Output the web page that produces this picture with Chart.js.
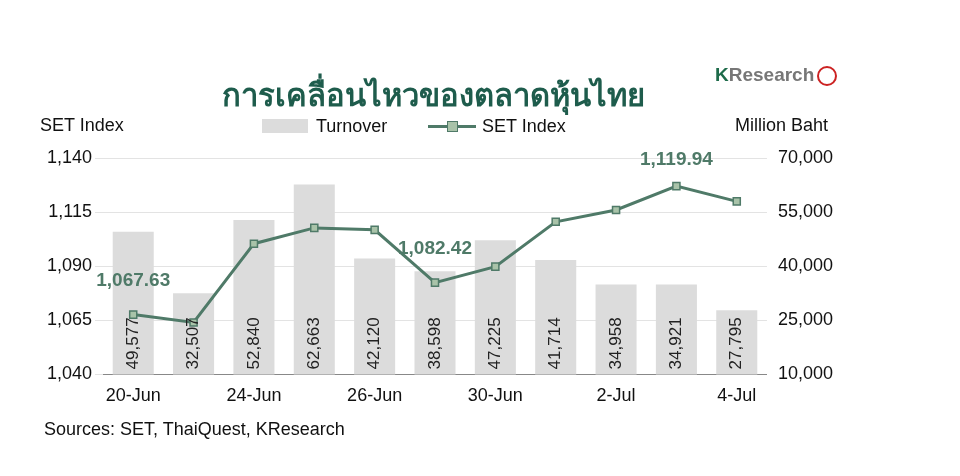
<!DOCTYPE html>
<html>
<head>
<meta charset="utf-8">
<script src="https://cdn.jsdelivr.net/npm/chart.js@4"></script>
<style>
  body { margin: 0; background: #fff; font-family: "Liberation Sans", Arial, sans-serif; }
  #wrap { position: relative; width: 960px; height: 476px; }
  canvas { position: absolute; left: 0; top: 0; }
  .t { position: absolute; color: #111; font-size: 18px; white-space: nowrap; }
</style>
</head>
<body>
<div id="wrap">
  <canvas id="c" width="960" height="476"></canvas>
  <div class="t" style="left:222px;top:70px;font-family:'Noto Sans';font-weight:bold;font-size:31px;color:#1e5c4c;">การเคลื่อนไหวของตลาดหุ้นไทย</div>
  <div class="t" style="left:715px;top:64px;font-weight:bold;font-size:19px;color:#777;"><span style="color:#1e6b4a">K</span>Research<span style="display:inline-block;width:20px;height:20px;border:2px solid #c22;border-radius:50%;vertical-align:middle;margin-left:3px;box-sizing:border-box;"></span></div>
  <div class="t" style="left:40px;top:115px;">SET Index</div>
  <div class="t" style="left:735px;top:115px;">Million Baht</div>
  <div class="t" style="left:262px;top:116px;"><span style="display:inline-block;width:46px;height:14px;background:#dcdcdc;vertical-align:-1px;margin-right:8px;"></span>Turnover</div>
  <div class="t" style="left:428px;top:116px;"><span style="display:inline-block;position:relative;width:48px;height:14px;vertical-align:-1px;margin-right:6px;"><span style="position:absolute;left:0;top:6px;width:48px;height:3px;background:#4f7a68"></span><span style="position:absolute;left:19px;top:2px;width:9px;height:9px;background:#a9c3a9;border:1.5px solid #4f7a68"></span></span>SET Index</div>
  <div class="t" style="left:44px;top:419px;">Sources: SET, ThaiQuest, KResearch</div>
</div>
<script>
const dates = ['20-Jun','21-Jun','24-Jun','25-Jun','26-Jun','27-Jun','30-Jun','1-Jul','2-Jul','3-Jul','4-Jul'];
const turnover = [49577, 32507, 52840, 62663, 42120, 38598, 47225, 41714, 34958, 34921, 27795];
const setIndex = [1067.63, 1064.0, 1100.4, 1107.7, 1106.8, 1082.42, 1089.8, 1110.5, 1116.0, 1127.0, 1119.94];
const callouts = [[0, '1,067.63'], [5, '1,082.42'], [9, '1,119.94']];

const labelPlugin = {
  id: 'labels',
  afterDatasetsDraw(chart) {
    const ctx = chart.ctx;
    const bars = chart.getDatasetMeta(1).data;
    ctx.save();
    ctx.font = '17px "Liberation Sans", Arial';
    ctx.fillStyle = '#222';
    ctx.textAlign = 'left';
    ctx.textBaseline = 'middle';
    bars.forEach((b, i) => {
      ctx.save();
      ctx.translate(b.x, chart.chartArea.bottom - 5);
      ctx.rotate(-Math.PI / 2);
      ctx.fillText(turnover[i].toLocaleString('en-US'), 0, 0);
      ctx.restore();
    });
    const pts = chart.getDatasetMeta(0).data;
    ctx.font = 'bold 19px "Liberation Sans", Arial';
    ctx.fillStyle = '#4f7a68';
    ctx.textAlign = 'center';
    callouts.forEach(([i, txt]) => {
      const off = i === 9 ? 26 : 34;
      ctx.fillText(txt, pts[i].x, pts[i].y - off);
    });
    ctx.restore();
  }
};

new Chart(document.getElementById('c'), {
  data: {
    labels: dates,
    datasets: [
      {
        type: 'line', label: 'SET Index', data: setIndex, yAxisID: 'y',
        borderColor: '#4f7a68', borderWidth: 3,
        pointStyle: 'rect', pointRadius: 5, pointBackgroundColor: '#a9c3a9',
        pointBorderColor: '#4f7a68', pointBorderWidth: 1.5, tension: 0, order: 0
      },
      {
        type: 'bar', label: 'Turnover', data: turnover, yAxisID: 'y1',
        backgroundColor: '#dcdcdc', categoryPercentage: 1, barPercentage: 0.68, order: 1
      }
    ]
  },
  options: {
    responsive: false, animation: false,
    layout: { padding: { top: 158, bottom: 66, left: 44, right: 124 } },
    plugins: { legend: { display: false }, tooltip: { enabled: false } },
    scales: {
      x: {
        grid: { display: false },
        border: { color: '#888' },
        ticks: {
          color: '#111', font: { size: 18, family: '"Liberation Sans", Arial' },
          maxRotation: 0, autoSkip: false,
          callback: (v, i) => i % 2 === 0 ? dates[i] : ''
        }
      },
      y: {
        position: 'left', min: 1040, max: 1140,
        ticks: { stepSize: 25, color: '#111', font: { size: 18, family: '"Liberation Sans", Arial' },
          callback: v => v.toLocaleString('en-US') },
        grid: { color: '#e3e3e3' }, border: { display: false }
      },
      y1: {
        position: 'right', min: 10000, max: 70000,
        ticks: { stepSize: 15000, color: '#111', font: { size: 18, family: '"Liberation Sans", Arial' },
          callback: v => v.toLocaleString('en-US') },
        grid: { display: false }, border: { display: false }
      }
    }
  },
  plugins: [labelPlugin]
});
</script>
</body>
</html>
